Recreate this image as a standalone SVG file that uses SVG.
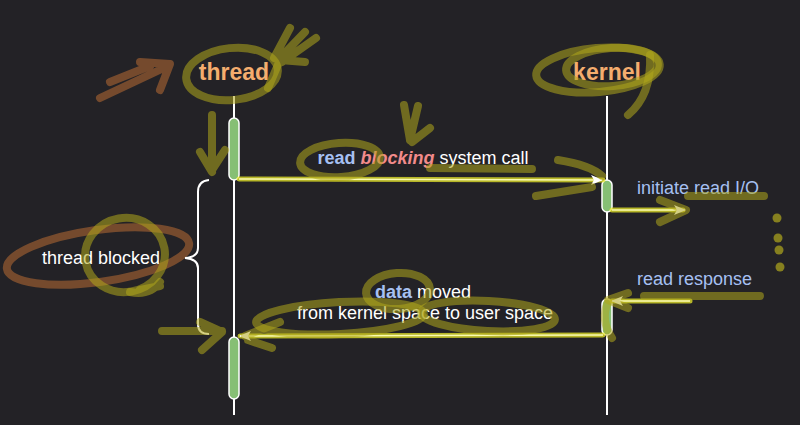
<svg xmlns="http://www.w3.org/2000/svg" width="800" height="425" viewBox="0 0 800 425">
<style>
.title{font-family:"Liberation Sans",Arial,sans-serif;font-weight:bold;font-size:23px;fill:#f4ad6e;text-anchor:middle}
.lbl{font-family:"Liberation Sans",Arial,sans-serif;font-size:18px;fill:#ffffff}
.blue{fill:#a6c0f2}
.bb{fill:#a6c0f2;font-weight:bold}
.pink{fill:#f28b8b;font-weight:bold;font-style:italic}
.life{stroke:#ffffff;stroke-width:2;fill:none}
.act{fill:#86bf74;stroke:#ffffff;stroke-width:1.5}
.glow{stroke:#e8e82a;stroke-width:5;fill:none;opacity:0.75;stroke-linecap:round}
.msg{stroke:#fbfbb0;stroke-width:1.6;fill:none}
.hl{stroke:#b0a81c;stroke-width:8;fill:none;opacity:0.55;stroke-linecap:round;stroke-linejoin:round}
.br{stroke:#8a5530;stroke-width:8;fill:none;opacity:0.8;stroke-linecap:round;stroke-linejoin:round}
</style>
<defs>
<marker id="ah" viewBox="0 0 12 10" refX="11" refY="5" markerWidth="12" markerHeight="10" markerUnits="userSpaceOnUse" orient="auto">
<path d="M0,0 L12,5 L0,10 L3,5 Z" fill="#ffffff"/>
</marker>
</defs>
<rect width="800" height="425" fill="#232226"/>

<g id="annotations-back">
<path class="br" d="M100,98 L168,66 M140,62 L170,64 L160,90 M110,82 L150,66"/>
<ellipse class="br" cx="98" cy="256" rx="92" ry="26" transform="rotate(-8 98 256)"/>
</g>

<g id="thread">
<text class="title" x="234" y="80">thread</text>
<line class="life" x1="234" y1="96" x2="234" y2="415"/>
<rect class="act" x="229" y="118" width="10" height="62" rx="5"/>
<rect class="act" x="229" y="337" width="10" height="62" rx="5"/>
</g>

<g id="kernel">
<text class="title" x="607" y="80">kernel</text>
<line class="life" x1="607" y1="96" x2="607" y2="415"/>
<rect class="act" x="602" y="180" width="10" height="32" rx="5"/>
<rect class="act" x="602" y="299" width="10" height="36" rx="5"/>
</g>

<g id="thread-blocked">
<path d="M209,180 Q198,181 198,192 L198,248 Q198,257 185,258 Q198,259 198,268 L198,324 Q198,334 209,334" stroke="#ffffff" stroke-width="2" fill="none"/>
<text class="lbl" x="42" y="264">thread blocked</text>
</g>

<g id="connectors">
<line class="glow" x1="239" y1="179" x2="603" y2="180"/>
<line class="msg" x1="239" y1="179" x2="602" y2="180" marker-end="url(#ah)"/>
<line class="glow" x1="612" y1="210" x2="683" y2="210"/>
<line class="msg" x1="612" y1="210" x2="685" y2="210" marker-end="url(#ah)"/>
<line class="glow" x1="690" y1="301" x2="612" y2="301"/>
<line class="msg" x1="690" y1="301" x2="612" y2="301" marker-end="url(#ah)"/>
<line class="glow" x1="603" y1="335" x2="240" y2="336"/>
<line class="msg" x1="603" y1="335" x2="240" y2="336" marker-end="url(#ah)"/>
</g>

<g id="labels">
<text class="lbl" x="423" y="164" text-anchor="middle"><tspan class="bb">read</tspan> <tspan class="pink">blocking</tspan> system call</text>
<text class="lbl blue" x="637" y="194">initiate read I/O</text>
<text class="lbl blue" x="637" y="285">read response</text>
<text class="lbl" x="423" y="298" text-anchor="middle"><tspan class="bb">data</tspan> moved</text>
<text class="lbl" x="425" y="319" text-anchor="middle">from kernel space to user space</text>
</g>

<g id="annotations">
<ellipse class="hl" cx="232" cy="74" rx="46" ry="26" transform="rotate(-6 232 74)"/>
<path class="hl" d="M290,28 L274,58 M305,32 L278,60 M316,38 L282,62 M305,62 L280,60 L268,88"/>
<ellipse class="hl" cx="598" cy="70" rx="62" ry="22" transform="rotate(-5 598 70)"/>
<ellipse class="hl" cx="612" cy="67" rx="46" ry="19" transform="rotate(-4 612 67)"/>
<path class="hl" d="M650,55 Q652,95 628,115"/>
<path class="hl" d="M212,115 L212,170 M200,152 L212,172 M225,150 L212,170"/>
<ellipse class="hl" cx="340" cy="160" rx="40" ry="17" transform="rotate(-4 340 160)"/>
<path class="hl" d="M404,105 L410,140 M418,106 L410,140 M430,128 L412,142"/>
<path class="hl" d="M430,168 L532,169"/>
<path class="hl" d="M558,160 Q590,165 602,176 M536,196 L592,187"/>
<path class="hl" d="M660,200 L686,210 L660,222 M688,196 L764,196"/>
<circle cx="777" cy="218" r="4.5" fill="#b0a81c" opacity="0.7"/>
<circle cx="778" cy="238" r="4.5" fill="#b0a81c" opacity="0.7"/>
<circle cx="779" cy="250" r="4.5" fill="#b0a81c" opacity="0.7"/>
<circle cx="780" cy="267" r="4.5" fill="#b0a81c" opacity="0.7"/>
<path class="hl" d="M644,296 L760,296 M628,293 L608,300 L628,308"/>
<ellipse class="hl" cx="125" cy="255" rx="40" ry="37" transform="rotate(-10 125 255)"/>
<path class="hl" d="M140,290 L160,286 M130,292 Q150,296 160,282"/>
<path class="hl" d="M162,331 L222,331 M200,322 L222,332 L202,350"/>
<path class="hl" d="M245,336 L280,322 M248,340 L272,348"/>
<ellipse class="hl" cx="398" cy="291" rx="32" ry="18" transform="rotate(-4 398 291)"/>
<ellipse class="hl" cx="340" cy="318" rx="84" ry="16" transform="rotate(-3 340 318)"/>
<ellipse class="hl" cx="488" cy="316" rx="67" ry="15" transform="rotate(3 488 316)"/>
<path class="hl" d="M608,302 Q600,320 612,338"/>
</g>
</svg>
